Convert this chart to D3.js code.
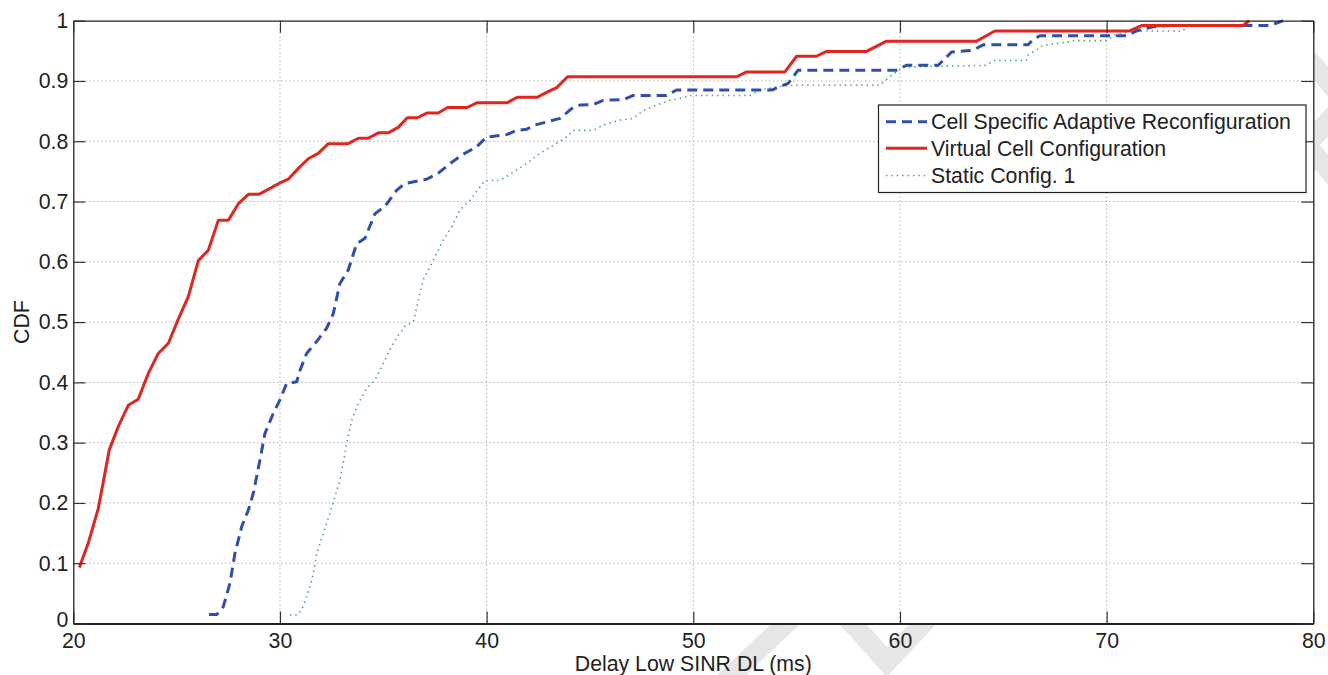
<!DOCTYPE html>
<html>
<head>
<meta charset="utf-8">
<script src="https://cdn.jsdelivr.net/npm/d3@7/dist/d3.min.js"></script>
<style>
  html, body { margin: 0; padding: 0; background: #fff; }
  svg { display: block; font-family: "Liberation Sans", Arial, Helvetica, sans-serif; }
</style>
</head>
<body>
<svg id="chart" width="1328" height="675"></svg>
<script>
// Delay CDF curves, [delay (ms), cumulative probability]
const cellSpecific = [
  [26.57,0.015],[26.94,0.015],[27.26,0.028],[27.58,0.067],[27.82,0.116],[28.15,0.161],
  [28.47,0.188],[28.71,0.216],[29.03,0.271],[29.27,0.315],[29.68,0.349],[30.0,0.371],
  [30.32,0.398],[30.81,0.401],[30.97,0.42],[31.29,0.448],[31.78,0.468],[32.26,0.49],
  [32.58,0.514],[32.9,0.564],[33.3,0.586],[33.71,0.63],[34.11,0.639],[34.6,0.68],
  [35.08,0.692],[35.65,0.719],[36.05,0.73],[37.1,0.737],[37.66,0.747],[38.23,0.763],
  [38.79,0.777],[39.52,0.791],[40.0,0.807],[40.97,0.811],[41.45,0.818],[41.94,0.82],
  [42.34,0.827],[42.9,0.832],[43.55,0.838],[44.11,0.854],[44.51,0.86],[45.16,0.861],
  [45.64,0.868],[46.61,0.869],[47.09,0.876],[48.71,0.876],[49.19,0.885],[53.8,0.885],
  [54.59,0.896],[55.07,0.918],[59.83,0.918],[60.32,0.926],[61.85,0.926],[62.5,0.948],
  [63.54,0.951],[64.02,0.96],[66.2,0.96],[66.45,0.969],[66.77,0.975],[70.96,0.975],
  [71.44,0.983],[72.25,0.99],[72.9,0.992],[77.9,0.992],[78.54,1.0]
];
const virtualCell = [
  [20.29,0.093],[20.73,0.134],[21.21,0.191],[21.74,0.288],[22.18,0.327],[22.66,0.362],
  [23.14,0.372],[23.63,0.415],[24.11,0.448],[24.6,0.465],[25.08,0.505],[25.56,0.542],
  [26.05,0.602],[26.53,0.619],[27.02,0.669],[27.5,0.669],[27.98,0.696],[28.47,0.712],
  [28.98,0.712],[29.47,0.721],[29.95,0.73],[30.4,0.737],[30.89,0.755],[31.37,0.771],
  [31.85,0.78],[32.34,0.796],[33.3,0.796],[33.79,0.805],[34.27,0.805],[34.76,0.814],
  [35.24,0.814],[35.72,0.823],[36.16,0.839],[36.64,0.839],[37.13,0.847],[37.66,0.847],
  [38.11,0.856],[39.06,0.856],[39.55,0.864],[41.0,0.864],[41.48,0.873],[42.45,0.873],
  [42.9,0.881],[43.39,0.889],[43.92,0.907],[52.1,0.907],[52.58,0.915],[54.43,0.915],
  [55.0,0.941],[55.96,0.941],[56.45,0.949],[58.38,0.949],[59.35,0.966],[63.7,0.966],
  [64.59,0.983],[71.12,0.983],[71.69,0.992],[76.6,0.992],[76.9,1.0]
];
const staticConfig = [
  [30.48,0.014],[30.81,0.014],[31.05,0.022],[31.29,0.044],[31.45,0.061],[31.61,0.083],
  [31.78,0.116],[32.1,0.15],[32.42,0.183],[32.66,0.21],[32.9,0.238],[33.06,0.266],
  [33.23,0.299],[33.47,0.337],[33.79,0.365],[34.19,0.39],[34.6,0.404],[34.92,0.426],
  [35.32,0.454],[35.72,0.478],[36.1,0.495],[36.45,0.5],[36.69,0.536],[36.93,0.57],
  [37.26,0.592],[37.58,0.614],[37.9,0.636],[38.31,0.658],[38.71,0.686],[39.19,0.702],
  [39.68,0.724],[39.92,0.735],[40.64,0.735],[41.21,0.747],[41.94,0.763],[42.58,0.78],
  [43.22,0.793],[43.87,0.807],[44.19,0.818],[45.16,0.818],[45.64,0.827],[46.45,0.835],
  [47.09,0.838],[47.58,0.851],[48.22,0.86],[48.87,0.868],[49.35,0.871],[49.92,0.876],
  [52.74,0.876],[53.22,0.885],[54.03,0.89],[54.67,0.893],[59.03,0.893],[59.5,0.907],
  [60.15,0.923],[64.19,0.926],[64.51,0.934],[66.12,0.934],[66.2,0.943],[66.93,0.959],
  [68.22,0.965],[68.38,0.967],[70.0,0.967],[70.48,0.978],[71.29,0.983],[73.7,0.983],
  [74.0,1.0]
];

const seriesNames = ["Cell Specific Adaptive Reconfiguration", "Virtual Cell Configuration", "Static Config. 1"];
const xTicks = [20, 30, 40, 50, 60, 70, 80];
const yTicks = [0, 0.1, 0.2, 0.3, 0.4, 0.5, 0.6, 0.7, 0.8, 0.9, 1];
const xLabel = "Delay Low SINR DL (ms)";
const yLabel = "CDF";

const plot = { left: 73.3, right: 1313.3, top: 20.7, bottom: 623.5 };
const fontSize = 21.3;
const svg = d3.select("#chart");

const x = d3.scaleLinear().domain([20, 80]).range([plot.left, plot.right]);
const y = d3.scaleLinear().domain([0, 1]).range([plot.bottom, plot.top]);

// faint background watermark strokes (covered by the axes background)
const wm = svg.append("g").attr("fill", "none").attr("stroke", "#e6e6e6")
  .attr("stroke-width", 20).attr("stroke-linecap", "butt");
wm.append("polyline").attr("points", "718,688 796,614");
wm.append("polyline").attr("points", "842,612 887,662 934,612");
wm.append("polyline").attr("points", "1292,42 1345,100");
wm.append("polyline").attr("points", "1345,104 1306,145 1345,188");

// axes background
svg.append("rect").attr("x", plot.left).attr("y", plot.top)
  .attr("width", plot.right - plot.left).attr("height", plot.bottom - plot.top)
  .attr("fill", "#fff");

// dotted grid
const grid = svg.append("g").attr("stroke", "#8c8c8c").attr("stroke-width", 1)
  .attr("stroke-dasharray", "1,3");
grid.selectAll("line.gx").data(xTicks.slice(1, -1)).join("line")
  .attr("x1", d => x(d)).attr("x2", d => x(d))
  .attr("y1", plot.top).attr("y2", plot.bottom);
grid.selectAll("line.gy").data(yTicks.slice(1, -1)).join("line")
  .attr("x1", plot.left).attr("x2", plot.right)
  .attr("y1", d => y(d)).attr("y2", d => y(d));

// curves
const line = d3.line().x(d => x(d[0])).y(d => y(d[1]));
const styles = [
  { data: cellSpecific, color: "#2f4fa8", width: 3, dash: "10,6" },
  { data: virtualCell, color: "#e0261f", width: 3, dash: null },
  { data: staticConfig, color: "#4aa06f", width: 1.6, dash: "1.4,4" }
];
const curves = svg.append("g").attr("fill", "none");
[styles[2], styles[0], styles[1]].forEach(s => {
  curves.append("path").datum(s.data).attr("d", line)
    .attr("stroke", s.color).attr("stroke-width", s.width)
    .attr("stroke-dasharray", s.dash).attr("stroke-linejoin", "round");
});

// axes with inward ticks on all four sides
const tickLen = 12;
const fmtY = d => d3.format("~g")(d);
const axB = svg.append("g").attr("transform", `translate(0,${plot.bottom})`)
  .call(d3.axisBottom(x).tickValues(xTicks).tickSizeInner(-tickLen).tickSizeOuter(0).tickPadding(9).tickFormat(d3.format("d")));
const axL = svg.append("g").attr("transform", `translate(${plot.left},0)`)
  .call(d3.axisLeft(y).tickValues(yTicks).tickSizeInner(-tickLen).tickSizeOuter(0).tickPadding(5).tickFormat(fmtY));
const axT = svg.append("g").attr("transform", `translate(0,${plot.top})`)
  .call(d3.axisTop(x).tickValues(xTicks).tickSizeInner(-tickLen).tickSizeOuter(0).tickFormat(""));
const axR = svg.append("g").attr("transform", `translate(${plot.right},0)`)
  .call(d3.axisRight(y).tickValues(yTicks).tickSizeInner(-tickLen).tickSizeOuter(0).tickFormat(""));

[axB, axL, axT, axR].forEach(g => {
  g.select(".domain").attr("stroke", "#222").attr("stroke-width", 1.3);
  g.selectAll(".tick line").attr("stroke", "#333").attr("stroke-width", 1.2);
  g.selectAll(".tick text").attr("fill", "#222").attr("font-size", fontSize)
    .attr("font-family", "'Liberation Sans', Arial, Helvetica, sans-serif");
});
axB.select(".domain").attr("stroke-width", 2);
// the lowest y label sits just above the axis corner
axL.selectAll(".tick text").filter(d => d === 0).attr("dy", "0.12em");

// axis labels
svg.append("text").attr("x", (plot.left + plot.right) / 2).attr("y", 671)
  .attr("text-anchor", "middle").attr("font-size", fontSize).attr("fill", "#222")
  .text(xLabel);
svg.append("text").attr("transform", `translate(29,${(plot.top + plot.bottom) / 2}) rotate(-90)`)
  .attr("text-anchor", "middle").attr("font-size", fontSize).attr("fill", "#222")
  .text(yLabel);

// legend
const lg = svg.append("g");
lg.append("rect").attr("x", 878.5).attr("y", 105).attr("width", 427.5).attr("height", 87.5)
  .attr("fill", "#fff").attr("stroke", "#222").attr("stroke-width", 1.2);
const rowY = [121.7, 148.3, 175.5];
styles.forEach((s, i) => {
  lg.append("line").attr("x1", 886).attr("x2", 927).attr("y1", rowY[i]).attr("y2", rowY[i])
    .attr("stroke", s.color).attr("stroke-width", s.width).attr("stroke-dasharray", s.dash);
  lg.append("text").attr("x", 931).attr("y", rowY[i]).attr("dy", "0.35em")
    .attr("font-size", fontSize).attr("fill", "#222").text(seriesNames[i]);
});
</script>
</body>
</html>
